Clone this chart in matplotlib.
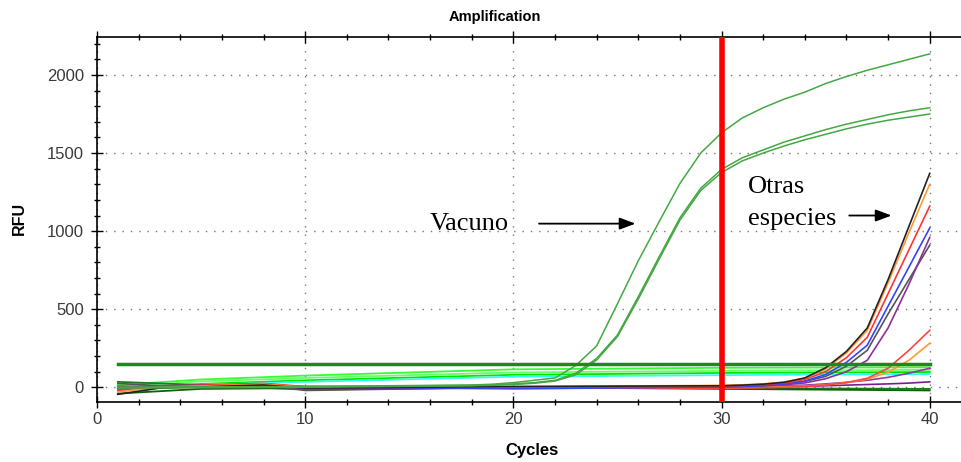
# Amplification plot (qPCR) - Vacuno vs otras especies
import numpy as np
import matplotlib
matplotlib.use('Agg')
from matplotlib import pyplot as plt
from matplotlib.ticker import MultipleLocator

# Vacuno curves (green sigmoids)
vacCycles = [1, 10, 18, 19, 20, 21, 22, 23, 24, 25, 26, 27, 28, 29, 30,
             31, 32, 33, 34, 35, 36, 37, 38, 39, 40]
vacuno1 = [0, 5, 15, 20, 30, 45, 60, 140, 265, 535, 810, 1060, 1305, 1500, 1630,
           1725, 1790, 1845, 1890, 1945, 1990, 2030, 2065, 2100, 2135]
vacuno2 = [0, 5, 12, 15, 22, 30, 45, 90, 185, 335, 580, 835, 1085, 1275, 1395,
           1470, 1520, 1570, 1610, 1650, 1685, 1715, 1745, 1770, 1790]
vacuno3 = [-5, 0, 10, 13, 18, 26, 40, 80, 175, 325, 565, 820, 1070, 1260, 1375,
           1450, 1500, 1545, 1585, 1620, 1655, 1685, 1710, 1730, 1750]

# Otras especies (late rising curves)
osCycles = [1, 3, 8, 10, 20, 30, 31, 32, 33, 34, 35, 36, 37, 38, 39, 40]
black = [-45, -5, 15, -5, 5, 10, 14, 20, 32, 60, 125, 230, 380, 690, 1030, 1370]
orange = [-30, 0, 20, 0, 5, 12, 16, 22, 34, 58, 118, 220, 365, 670, 990, 1300]
red = [-20, 5, 25, 5, 0, 8, 12, 18, 28, 50, 100, 190, 320, 600, 880, 1160]
blue = [-10, 5, 10, 5, -10, 3, 6, 12, 22, 40, 82, 160, 270, 520, 770, 1020]
purple = [0, 10, 20, -10, -5, 3, 5, 10, 16, 28, 55, 100, 173, 380, 660, 960]
darkGray = [25, 10, 20, -20, 0, 5, 8, 14, 22, 38, 70, 135, 237, 470, 690, 910]
redLow = [10, 0, 15, 0, -5, -5, -4, -2, 0, 6, 15, 30, 58, 122, 237, 365]
orangeLow = [-15, 0, 10, 0, -5, -3, -2, 0, 3, 8, 16, 30, 52, 96, 173, 282]
purpleLow = [5, 0, 5, -5, 0, 3, 4, 6, 9, 14, 22, 32, 45, 64, 90, 122]
violetLow = [-5, 0, 5, 0, 0, 2, 3, 4, 5, 7, 10, 14, 18, 22, 27, 35]

# Baseline lines
blCycles = [1, 5, 10, 20, 30, 40]
brightGreen1 = [15, 50, 75, 115, 125, 128]
brightGreen2 = [5, 38, 60, 95, 105, 112]
brightGreen3 = [-10, 22, 45, 80, 92, 98]
cyanLine = [-5, 15, 35, 68, 78, 85]
darkGreen1 = [35, 15, -15, 0, -5, -10]
darkGreen2 = [-40, -10, -5, 0, -10, -20]

thresholdCycles = [1, 40]
thresholdRFU = [152, 152]
cutoffCycle = 30

xTicks = [0, 10, 20, 30, 40]
yTicks = [0, 500, 1000, 1500, 2000]

#   Default MPL Settings
plt.rc('font', family='Liberation Sans', size=12)
plt.rc('xtick', color='black', labelcolor='#3a3a3a')
plt.rc('ytick', color='black', labelcolor='#3a3a3a')

W, H = 962, 462
fig = plt.figure(figsize=(W / 100, H / 100), dpi=100)
ax = fig.add_axes([97 / W, 1 - 402 / H, 865 / W, 365 / H])

# baselines
for vals, c in [(brightGreen1, '#33ff33'), (brightGreen2, '#66ff66'),
                (brightGreen3, '#00e600'), (cyanLine, '#33ffee'),
                (darkGreen1, '#1e7a1e'), (darkGreen2, '#0f5f0f')]:
    ax.plot(blCycles, vals, color=c, lw=1.3)

# otras especies
for vals, c in [(violetLow, '#7a1f8a'), (purpleLow, '#9933aa'),
                (orangeLow, '#ff9933'), (redLow, '#ff4444'),
                (darkGray, '#555555'), (purple, '#8b2f9f'),
                (blue, '#3344ff'), (red, '#ff3333'),
                (orange, '#ff9933'), (black, '#222222')]:
    ax.plot(osCycles, vals, color=c, lw=1.2)

# vacuno
for vals in [vacuno1, vacuno2, vacuno3]:
    ax.plot(vacCycles, vals, color='#44a844', lw=1.1)

# threshold
ax.plot(thresholdCycles, thresholdRFU, color='#1a8a1a', lw=2.5)

# cut-off line
ax.axvline(cutoffCycle, color='#ff0000', lw=4, zorder=5)

ax.set_xlim(0, 41.55)
ax.set_ylim(-94, 2243)
ax.set_xticks(xTicks)
ax.set_yticks(yTicks)
ax.xaxis.set_minor_locator(MultipleLocator(2))
ax.yaxis.set_minor_locator(MultipleLocator(100))
ax.tick_params(which='major', direction='inout', length=9, width=1, top=True, pad=3)
ax.tick_params(which='minor', direction='inout', length=5, width=1, top=True)
ax.tick_params(axis='y', which='major', pad=5)
ax.grid(True, which='major', color='#777777', ls=(0, (1, 5)), lw=1)
ax.spines['right'].set_visible(False)
for s in ['left', 'bottom', 'top']:
    ax.spines[s].set_linewidth(1.2)

# labels
fig.text(495 / W, 1 - 17 / H, 'Amplification', ha='center', va='center',
         fontsize=10.5, fontweight='bold')
fig.text(19 / W, 1 - 218 / H, 'RFU', ha='center', va='center', rotation=90,
         fontsize=11.5, fontweight='bold')
fig.text(532 / W, 1 - 451 / H, 'Cycles', ha='center', va='center',
         fontsize=12, fontweight='bold')

# annotations
ax.text(16.0, 1010, 'Vacuno', family='Liberation Serif', fontsize=19,
        ha='left', va='baseline')
ax.annotate('', xy=(26.0, 1048), xytext=(21.1, 1048),
            arrowprops=dict(arrowstyle='-|>,head_length=0.8,head_width=0.3',
                            color='black', lw=1.3))
ax.text(31.25, 1245, 'Otras', family='Liberation Serif', fontsize=19,
        ha='left', va='baseline')
ax.text(31.25, 1040, 'especies', family='Liberation Serif', fontsize=19,
        ha='left', va='baseline')
ax.annotate('', xy=(38.3, 1100), xytext=(36.0, 1100),
            arrowprops=dict(arrowstyle='-|>,head_length=0.8,head_width=0.3',
                            color='black', lw=1.3))

plt.savefig('out.png', dpi=100)
